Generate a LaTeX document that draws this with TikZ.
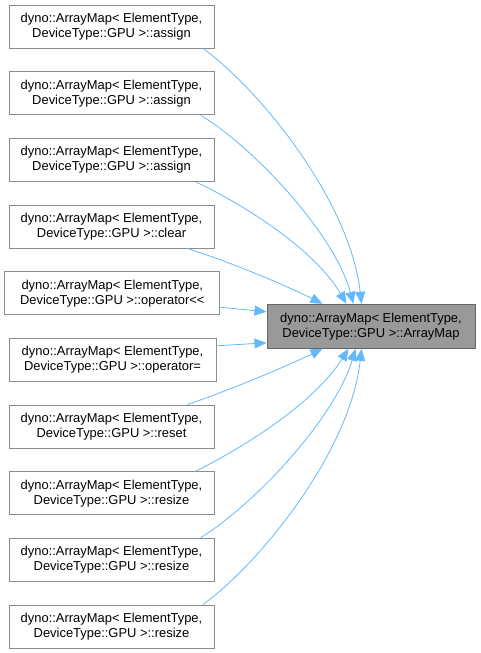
\documentclass[tikz,border=0pt]{standalone}
\usepackage{fontspec}
\setmainfont{Liberation Sans}
\usetikzlibrary{arrows.meta,calc}
\definecolor{edgeblue}{HTML}{63B8FF}
\definecolor{boxline}{HTML}{8C8C8C}
\definecolor{rootfill}{HTML}{999999}
\definecolor{rootline}{HTML}{666666}
\tikzset{
  srcbox/.style={draw=boxline, line width=0.75pt, fill=white, minimum height=32.25pt,
    minimum width=153.75pt, inner sep=0pt, align=center,
    font=\fontsize{9.7pt}{11.25pt}\selectfont},
  rootbox/.style={srcbox, draw=rootline, fill=rootfill, minimum width=156pt, minimum height=33pt},
  edge/.style={draw=edgeblue, line width=0.6pt, -{Triangle[length=9pt,width=7.5pt]}, fill=none},
}
\begin{document}
\begin{tikzpicture}[x=0.75pt,y=-0.75pt]
\useasboundingbox (0,0) rectangle (480,653);
\def\tA{dyno::ArrayMap< ElementType,}
\node[srcbox] (s1) at (111.5,26.5) {\tA\\ DeviceType::GPU >::assign};
\node[srcbox] (s2) at (111.5,93.2) {\tA\\ DeviceType::GPU >::assign};
\node[srcbox] (s3) at (111.5,159.8) {\tA\\ DeviceType::GPU >::assign};
\node[srcbox] (s4) at (111.5,226.5) {\tA\\ DeviceType::GPU >::clear};
\node[srcbox, minimum width=161.25pt] (s5) at (112.3,293.2) {\tA\\ DeviceType::GPU >::operator<{}<};
\node[srcbox, minimum width=155.25pt] (s6) at (112.5,359.8) {\tA\\ DeviceType::GPU >::operator=};
\node[srcbox] (s7) at (111.5,426.5) {\tA\\ DeviceType::GPU >::reset};
\node[srcbox] (s8) at (111.5,493.2) {\tA\\ DeviceType::GPU >::resize};
\node[srcbox] (s9) at (111.5,559.8) {\tA\\ DeviceType::GPU >::resize};
\node[srcbox] (s10) at (111.5,626.5) {\tA\\ DeviceType::GPU >::resize};
\node[rootbox] (t) at (371,326.3) {\tA\\ DeviceType::GPU >::ArrayMap};

\draw[edge] ($(s1.south east)+(-11.5,0)$) .. controls (258,88) and (350,200) .. ($(t.north west)+(95,0)$);
\draw[edge] ($(s2.south east)+(-14,0)$) .. controls (255,148) and (335,235) .. ($(t.north west)+(87,0)$);
\draw[edge] ($(s3.south east)+(-19,0)$) .. controls (245,205) and (315,250) .. ($(t.north west)+(80,0)$);
\draw[edge] ($(s4.south east)+(-27,0)$) .. controls (230,262) and (285,285) .. ($(t.north west)+(56,0)$);
\draw[edge] ($(s5.east)+(0,14)$) -- ($(t.north west)+(0,8)$);
\draw[edge] ($(s6.north east)+(0,8)$) -- ($(t.south west)+(0,-6)$);
\draw[edge] ($(s7.north east)+(-27,0)$) .. controls (230,390) and (285,367) .. ($(t.south west)+(56,0)$);
\draw[edge] ($(s8.north east)+(-19,0)$) .. controls (245,447) and (315,402) .. ($(t.south west)+(82,0)$);
\draw[edge] ($(s9.north east)+(-14,0)$) .. controls (255,504) and (335,418) .. ($(t.south west)+(89,0)$);
\draw[edge] ($(s10.north east)+(-11.5,0)$) .. controls (258,565) and (350,453) .. ($(t.south west)+(95,0)$);
\end{tikzpicture}
\end{document}
